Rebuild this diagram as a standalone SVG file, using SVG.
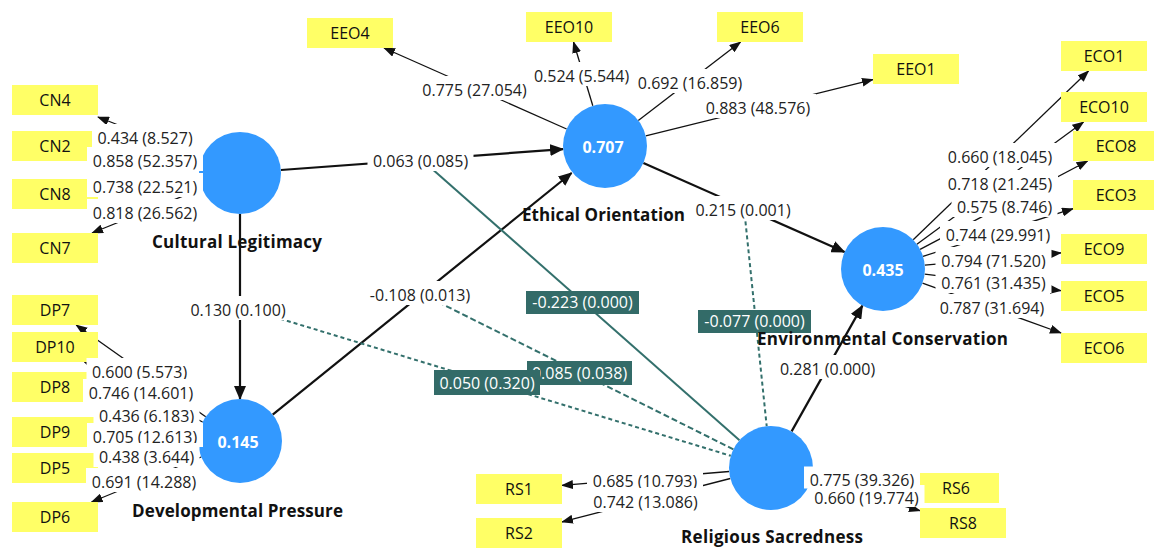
<svg xmlns="http://www.w3.org/2000/svg" width="1154" height="549" viewBox="0 0 1154 549">
<style>
text{font-family:"Open Sans","Noto Sans","Liberation Sans",sans-serif;font-size:16px;text-anchor:middle}
.ind rect{fill:#FFFF66}
.ind text{fill:#111}
.lv circle{fill:#3399FF}
.val{fill:#fff;font-weight:bold}
.name{font-weight:bold;fill:#111;font-size:17px}
.lbl rect{fill:#fff}
.lbl text{fill:#222}
.mod rect{fill:#336B68}
.mod text{fill:#fff}
.ld{stroke:#111;stroke-width:1.3;fill:none;marker-end:url(#ah)}
.st{stroke:#111;stroke-width:2.2;fill:none;marker-end:url(#AH)}
.tl{stroke:#33706C;stroke-width:2;fill:none}
</style>
<defs>
<marker id="ah" viewBox="0 0 12 9" refX="11" refY="4.5" markerWidth="12" markerHeight="9" orient="auto" markerUnits="userSpaceOnUse"><path d="M0,0L12,4.5L0,9z" fill="#111"/></marker>
<marker id="AH" viewBox="0 0 14 12" refX="13" refY="6" markerWidth="14" markerHeight="12" orient="auto" markerUnits="userSpaceOnUse"><path d="M0,0L14,6L0,12z" fill="#111"/></marker>
</defs>
<rect width="1154" height="549" fill="#fff"/>
<g id="connectors">
<line class="ld" x1="201.9" y1="158" x2="98" y2="117"/>
<line class="ld" x1="199.4" y1="167.1" x2="98" y2="152.3"/>
<line class="ld" x1="199.3" y1="177.6" x2="98" y2="189.1"/>
<line class="ld" x1="202" y1="188.4" x2="92" y2="233"/>
<line class="ld" x1="205.7" y1="416.7" x2="76.2" y2="325"/>
<line class="ld" x1="202.6" y1="422" x2="84.5" y2="362"/>
<line class="ld" x1="199.7" y1="429.2" x2="98" y2="399.5"/>
<line class="ld" x1="198" y1="439" x2="98" y2="434.1"/>
<line class="ld" x1="198.4" y1="447.1" x2="98" y2="461.7"/>
<line class="ld" x1="201.2" y1="457" x2="91.5" y2="502"/>
<line class="ld" x1="566.6" y1="129" x2="384" y2="48"/>
<line class="ld" x1="592.8" y1="105.8" x2="573.5" y2="42"/>
<line class="ld" x1="638.3" y1="120.4" x2="740.5" y2="42"/>
<line class="ld" x1="645.8" y1="135.9" x2="873" y2="79.6"/>
<line class="ld" x1="913.2" y1="239.8" x2="1088.5" y2="71"/>
<line class="ld" x1="916.9" y1="244.2" x2="1083.5" y2="122"/>
<line class="ld" x1="920.1" y1="249.4" x2="1087.6" y2="161"/>
<line class="ld" x1="923" y1="256.3" x2="1073" y2="208.7"/>
<line class="ld" x1="924.8" y1="265.2" x2="1061" y2="252.9"/>
<line class="ld" x1="924.7" y1="274.1" x2="1061" y2="290.7"/>
<line class="ld" x1="922.5" y1="283.1" x2="1061" y2="333"/>
<line class="ld" x1="729.1" y1="471.5" x2="562" y2="485.4"/>
<line class="ld" x1="730.3" y1="478.5" x2="562" y2="521.9"/>
<line class="ld" x1="812.8" y1="472.5" x2="913" y2="483.4"/>
<line class="ld" x1="811.4" y1="479.6" x2="920" y2="510.7"/>
<line class="st" x1="280.9" y1="170" x2="563.1" y2="149.1"/>
<line class="st" x1="240" y1="214" x2="240" y2="399"/>
<line class="st" x1="272.7" y1="414.6" x2="571.6" y2="173"/>
<line class="st" x1="643.4" y1="163" x2="844.6" y2="252"/>
<line class="st" x1="791.6" y1="431.4" x2="862.4" y2="305.6"/>
<line class="tl" x1="422" y1="160" x2="739.5" y2="440.2" stroke-width="1.8"/>
<line class="tl" x1="240" y1="306.5" x2="730.8" y2="455.8" stroke-dasharray="4 3"/>
<line class="tl" x1="422" y1="294" x2="733.4" y2="449.3" stroke-dasharray="6 3"/>
<line class="tl" x1="744" y1="207.5" x2="766.7" y2="426.2" stroke-dasharray="4 3"/>
</g>
<g id="CL" class="lv"><circle cx="240" cy="173" r="41"/></g>
<g id="DP" class="lv"><circle cx="240" cy="441" r="42"/><text class="val" x="238" y="448">0.145</text></g>
<g id="EO" class="lv"><circle cx="605" cy="146" r="42"/><text class="val" x="603" y="153">0.707</text></g>
<g id="EC" class="lv"><circle cx="883" cy="269" r="42"/><text class="val" x="883" y="276">0.435</text></g>
<g id="RS" class="lv"><circle cx="771" cy="468" r="42"/></g>
<g id="CN4" class="ind"><rect x="12" y="85" width="86" height="30"/><text x="55" y="106">CN4</text></g>
<g id="CN2" class="ind"><rect x="12" y="131" width="86" height="30"/><text x="55" y="152">CN2</text></g>
<g id="CN8" class="ind"><rect x="12" y="179" width="86" height="30"/><text x="55" y="200">CN8</text></g>
<g id="CN7" class="ind"><rect x="12" y="233" width="86" height="30"/><text x="55" y="254">CN7</text></g>
<g id="DP7" class="ind"><rect x="12" y="295" width="86" height="30"/><text x="55" y="316">DP7</text></g>
<g id="DP10" class="ind"><rect x="12" y="332" width="86" height="30"/><text x="55" y="353">DP10</text></g>
<g id="DP8" class="ind"><rect x="12" y="372" width="86" height="30"/><text x="55" y="393">DP8</text></g>
<g id="DP9" class="ind"><rect x="12" y="417" width="86" height="30"/><text x="55" y="438">DP9</text></g>
<g id="DP5" class="ind"><rect x="12" y="453" width="86" height="30"/><text x="55" y="474">DP5</text></g>
<g id="DP6" class="ind"><rect x="12" y="502" width="86" height="30"/><text x="55" y="523">DP6</text></g>
<g id="EEO4" class="ind"><rect x="307" y="18" width="86" height="30"/><text x="350" y="39">EEO4</text></g>
<g id="EEO10" class="ind"><rect x="526" y="12" width="86" height="30"/><text x="569" y="33">EEO10</text></g>
<g id="EEO6" class="ind"><rect x="717" y="12" width="86" height="30"/><text x="760" y="33">EEO6</text></g>
<g id="EEO1" class="ind"><rect x="873" y="54" width="86" height="30"/><text x="916" y="75">EEO1</text></g>
<g id="ECO1" class="ind"><rect x="1061" y="41" width="86" height="30"/><text x="1104" y="62">ECO1</text></g>
<g id="ECO10" class="ind"><rect x="1061" y="92" width="86" height="30"/><text x="1104" y="113">ECO10</text></g>
<g id="ECO8" class="ind"><rect x="1073" y="131" width="86" height="30"/><text x="1116" y="152">ECO8</text></g>
<g id="ECO3" class="ind"><rect x="1073" y="180" width="86" height="30"/><text x="1116" y="201">ECO3</text></g>
<g id="ECO9" class="ind"><rect x="1061" y="234" width="86" height="30"/><text x="1104" y="255">ECO9</text></g>
<g id="ECO5" class="ind"><rect x="1061" y="281" width="86" height="30"/><text x="1104" y="302">ECO5</text></g>
<g id="ECO6" class="ind"><rect x="1061" y="333" width="86" height="30"/><text x="1104" y="354">ECO6</text></g>
<g id="RS1" class="ind"><rect x="476" y="474" width="86" height="30"/><text x="519" y="495">RS1</text></g>
<g id="RS2" class="ind"><rect x="476" y="518" width="86" height="30"/><text x="519" y="539">RS2</text></g>
<g id="RS6" class="ind"><rect x="913" y="473" width="86" height="30"/><text x="956" y="494">RS6</text></g>
<g id="RS8" class="ind"><rect x="920" y="508" width="86" height="30"/><text x="963" y="529">RS8</text></g>
<g id="labels" class="lbl">
<rect x="92" y="124" width="106" height="24"/><text x="145" y="143.7">0.434 (8.527)</text>
<rect x="87" y="147" width="116" height="24"/><text x="145" y="166.7">0.858 (52.357)</text>
<rect x="87" y="173" width="116" height="24"/><text x="145" y="192.7">0.738 (22.521)</text>
<rect x="87" y="199" width="116" height="24"/><text x="145" y="218.7">0.818 (26.562)</text>
<rect x="86.5" y="358" width="106" height="24"/><text x="139.5" y="377.7">0.600 (5.573)</text>
<rect x="83" y="379" width="116" height="24"/><text x="141" y="398.7">0.746 (14.601)</text>
<rect x="93.5" y="402" width="106" height="24"/><text x="146.5" y="421.7">0.436 (6.183)</text>
<rect x="87" y="423" width="116" height="24"/><text x="145" y="442.7">0.705 (12.613)</text>
<rect x="93.5" y="443" width="106" height="24"/><text x="146.5" y="462.7">0.438 (3.644)</text>
<rect x="86" y="468" width="116" height="24"/><text x="144" y="487.7">0.691 (14.288)</text>
<rect x="416.5" y="76" width="116" height="24"/><text x="474.5" y="95.7">0.775 (27.054)</text>
<rect x="528.5" y="62" width="106" height="24"/><text x="581.5" y="81.7">0.524 (5.544)</text>
<rect x="632" y="69" width="116" height="24"/><text x="690" y="88.7">0.692 (16.859)</text>
<rect x="700" y="94" width="116" height="24"/><text x="758" y="113.7">0.883 (48.576)</text>
<rect x="942" y="143" width="116" height="24"/><text x="1000" y="162.7">0.660 (18.045)</text>
<rect x="942" y="170" width="116" height="24"/><text x="1000" y="189.7">0.718 (21.245)</text>
<rect x="951.5" y="193" width="106" height="24"/><text x="1004.5" y="212.7">0.575 (8.746)</text>
<rect x="940" y="221" width="116" height="24"/><text x="998" y="240.7">0.744 (29.991)</text>
<rect x="935.5" y="247" width="116" height="24"/><text x="993.5" y="266.7">0.794 (71.520)</text>
<rect x="935.5" y="269" width="116" height="24"/><text x="993.5" y="288.7">0.761 (31.435)</text>
<rect x="934" y="294" width="116" height="24"/><text x="992" y="313.7">0.787 (31.694)</text>
<rect x="587" y="467" width="116" height="24"/><text x="645" y="486.7">0.685 (10.793)</text>
<rect x="587.5" y="488" width="116" height="24"/><text x="645.5" y="507.7">0.742 (13.086)</text>
<rect x="808.5" y="485" width="116" height="22"/><text x="866.5" y="504.2">0.660 (19.774)</text>
<rect x="804" y="466.5" width="116" height="22"/><text x="862" y="485.7">0.775 (39.326)</text>
<rect x="367.5" y="147" width="106" height="24"/><text x="420.5" y="166.7">0.063 (0.085)</text>
<rect x="185" y="296" width="106" height="24"/><text x="238" y="315.7">0.130 (0.100)</text>
<rect x="364.5" y="281" width="111" height="24"/><text x="420" y="300.7">-0.108 (0.013)</text>
<rect x="690" y="196" width="106" height="24"/><text x="743" y="215.7">0.215 (0.001)</text>
<rect x="774.5" y="355" width="106" height="24"/><text x="827.5" y="374.7">0.281 (0.000)</text>
</g>
<g id="moderators" class="mod">
<rect x="526" y="291" width="113" height="23"/><text x="582.5" y="308.2">-0.223 (0.000)</text>
<rect x="527" y="361" width="105" height="24"/><text x="579.5" y="378.7">0.085 (0.038)</text>
<rect x="434" y="370" width="106" height="25"/><text x="487" y="388.7">0.050 (0.320)</text>
<rect x="698" y="310" width="113" height="23"/><text x="754.5" y="327.2">-0.077 (0.000)</text>
</g>
<g id="names">
<text class="name" x="237" y="248" textLength="170" lengthAdjust="spacing">Cultural Legitimacy</text>
<text class="name" x="237.5" y="517" textLength="211" lengthAdjust="spacing">Developmental Pressure</text>
<text class="name" x="603.5" y="221" textLength="163" lengthAdjust="spacing">Ethical Orientation</text>
<text class="name" x="882.5" y="345" textLength="251" lengthAdjust="spacing">Environmental Conservation</text>
<text class="name" x="772" y="543" textLength="182" lengthAdjust="spacing">Religious Sacredness</text>
</g>
</svg>
